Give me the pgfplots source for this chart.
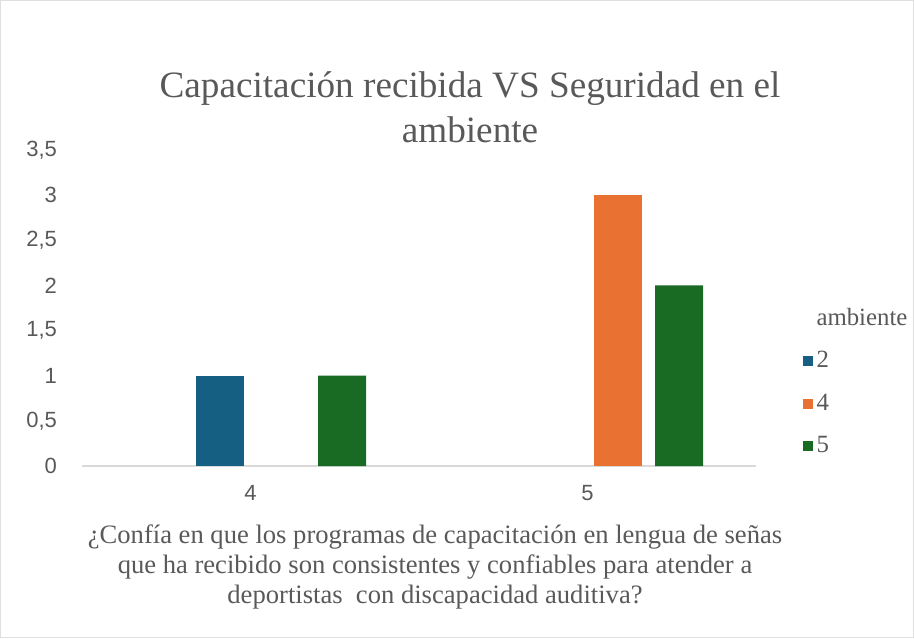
\documentclass[border=0pt]{standalone}
\usepackage{pgfplots}
\pgfplotsset{compat=1.18}
\usepackage{fontspec}
\setmainfont{Liberation Serif}
\setsansfont{Liberation Sans}
\definecolor{txt}{HTML}{595959}
\definecolor{cA}{HTML}{156082}
\definecolor{cB}{HTML}{E97132}
\definecolor{cC}{HTML}{196B24}
\begin{document}
\begin{tikzpicture}[x=1pt,y=1pt]
\useasboundingbox (0,0) rectangle (457,319);
\draw[gray!25, line width=0.6pt] (0.3,0.3) rectangle (456.7,318.7);
\node[text=txt, font=\fontsize{18.6}{22.5}\selectfont, align=center] at (235,265.5) {Capacitación recibida VS Seguridad en el\\ambiente};
\node[text=txt, font=\fontsize{13.3}{15}\selectfont, align=center] at (217.5,35.5) {¿Confía en que los programas de capacitación en lengua de señas\\que ha recibido son consistentes y confiables para atender a\\deportistas\ \ con discapacidad auditiva?};
\begin{axis}[
  at={(41pt,86pt)}, anchor=south west,
  scale only axis, width=337pt, height=158pt,
  xmin=-0.5, xmax=1.5, ymin=0, ymax=3.5,
  ytick={0,0.5,1,1.5,2,2.5,3,3.5},
  xtick={0,1}, xticklabels={4,5},
  axis lines*=left,
  y axis line style={draw=none},
  x axis line style={draw=gray!30, line width=0.8pt},
  major tick length=0pt,
  /pgf/number format/use comma,
  /pgf/number format/assume math mode=true,
  tick label style={font=\sffamily\fontsize{11}{12}\selectfont, text=txt},
  yticklabel style={anchor=east, xshift=-9pt},
  xticklabel style={yshift=-6pt},
  ybar, bar width=24pt,
  legend style={at={(rel axis cs:1.0595,0.527)}, anchor=north west, draw=none, fill=none,
    font=\fontsize{12.4}{13}\selectfont, text=txt, row sep=7.6pt},
  legend cell align=left,
  clip=false,
]
\addlegendimage{empty legend}
\addlegendentry{ambiente}
\addplot[fill=cA, draw=none, bar shift=-15.25pt,
  legend image code/.code={\fill[cA] (-1.3pt,-2.5pt) rectangle (3.7pt,2.5pt);}] coordinates {(0,1)};
\addlegendentry{2}
\addplot[fill=cB, draw=none, bar shift=15.25pt,
  legend image code/.code={\fill[cB] (-1.3pt,-2.5pt) rectangle (3.7pt,2.5pt);}] coordinates {(1,3)};
\addlegendentry{4}
\addplot[fill=cC, draw=none, bar shift=45.75pt,
  legend image code/.code={\fill[cC] (-1.3pt,-2.5pt) rectangle (3.7pt,2.5pt);}] coordinates {(0,1) (1,2)};
\addlegendentry{5}
\end{axis}
\end{tikzpicture}
\end{document}
